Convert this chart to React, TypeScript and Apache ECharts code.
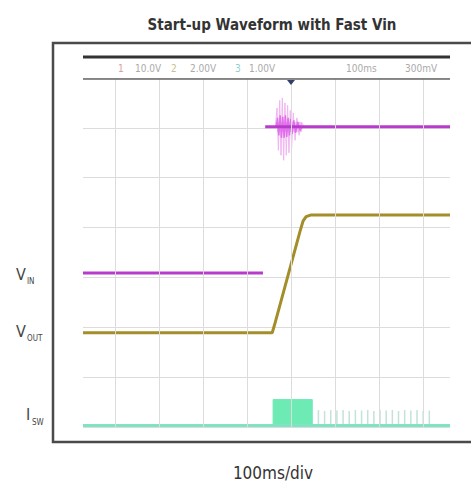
import React, { useEffect, useRef } from "react";
import * as echarts from "echarts";

// x in ms (100 ms/div), y in divisions
const xGridLines = [100, 200, 300, 400, 500, 600, 700, 800];
const vinLow: number[][] = [[27, 3.09], [436, 3.09]];
const vinHigh: number[][] = [[441, 6.02], [861, 6.02]];
const vinNoise: number[][] = [
  [464, 6.02], [468, 6.4], [471, 5.55], [474, 6.55], [477, 5.45], [480, 6.6],
  [483, 5.35], [486, 6.5], [489, 5.45], [492, 6.45], [495, 5.5], [498, 6.35],
  [501, 5.6], [505, 6.3], [509, 5.75], [513, 6.2], [518, 5.85], [524, 6.1], [530, 6.02],
];
const vinNoiseCore: number[][] = [
  [466, 6.02], [469, 6.2], [472, 5.85], [475, 6.25], [478, 5.8], [481, 6.22],
  [484, 5.8], [487, 6.25], [490, 5.82], [493, 6.2], [496, 5.85], [499, 6.18],
  [502, 5.88], [506, 6.15], [510, 5.9], [515, 6.12], [520, 5.95], [526, 6.02],
];
const vinBlob: number[][] = [[468, 6.02], [525, 6.02]];
const vout: number[][] = [
  [27, 1.89], [457, 1.89], [462, 2.04], [520, 3.92], [527, 4.13], [534, 4.22],
  [544, 4.25], [861, 4.25],
];
const iswBase: number[][] = [[27, 0.03], [861, 0.03]];
const iswBurst: number[][] = [[459, 0.03], [459, 0.55], [548, 0.55], [548, 0.03]];
const iswRipple: number[][] = [
  [562, 0.34], [576, 0.32], [590, 0.34], [604, 0.33], [618, 0.34], [632, 0.32],
  [646, 0.34], [660, 0.33], [674, 0.34], [688, 0.32], [702, 0.34], [716, 0.33],
  [730, 0.34], [744, 0.32], [758, 0.34], [772, 0.33], [786, 0.34], [800, 0.32], [814, 0.33],
];
const headerTexts = [
  { t: "1", x: 118, c: "#d9a0a0" },
  { t: "10.0V", x: 135, c: "#aaaaaa" },
  { t: "2", x: 171, c: "#c8c090" },
  { t: "2.00V", x: 190, c: "#aaaaaa" },
  { t: "3", x: 235, c: "#90d0d0" },
  { t: "1.00V", x: 249, c: "#aaaaaa" },
  { t: "100ms", x: 346, c: "#aaaaaa" },
  { t: "300mV", x: 405, c: "#aaaaaa" },
];

const FONT = "'DejaVu Sans Condensed', 'DejaVu Sans', sans-serif";

export default function App() {
  const ref = useRef<HTMLDivElement>(null);
  useEffect(() => {
    document.body.style.margin = "0";
    const chart = echarts.init(ref.current!, undefined, { renderer: "svg" });
    const graphics: any[] = [
      {
        type: "rect",
        shape: { x: 53, y: 43, width: 432, height: 399 },
        style: { fill: "none", stroke: "#4a4a4a", lineWidth: 2.5 },
        z: 10,
      },
      {
        type: "line",
        shape: { x1: 83, y1: 57, x2: 450, y2: 57 },
        style: { stroke: "#333", lineWidth: 3 },
        z: 10,
      },
      {
        type: "line",
        shape: { x1: 83, y1: 79, x2: 450, y2: 79 },
        style: { stroke: "#666", lineWidth: 1.5 },
        z: 10,
      },
      {
        type: "polygon",
        shape: { points: [[287, 80], [295, 80], [291, 85]] },
        style: { fill: "#334066" },
        z: 10,
      },
      {
        type: "text",
        x: 272,
        y: 25,
        style: {
          text: "Start-up Waveform with Fast Vin",
          font: `bold 15px ${FONT}`,
          fill: "#333",
          align: "center",
          verticalAlign: "middle",
        },
      },
      {
        type: "text",
        x: 273,
        y: 473,
        style: {
          text: "100ms/div",
          font: `17px ${FONT}`,
          fill: "#333",
          align: "center",
          verticalAlign: "middle",
        },
      },
      // channel labels
      { type: "text", x: 16, y: 274, style: { text: "V", font: `16px ${FONT}`, fill: "#444", verticalAlign: "middle" } },
      { type: "text", x: 27, y: 281, style: { text: "IN", font: `8px ${FONT}`, fill: "#444", verticalAlign: "middle" } },
      { type: "text", x: 16, y: 331, style: { text: "V", font: `16px ${FONT}`, fill: "#444", verticalAlign: "middle" } },
      { type: "text", x: 27, y: 338, style: { text: "OUT", font: `8px ${FONT}`, fill: "#444", verticalAlign: "middle" } },
      { type: "text", x: 26, y: 414, style: { text: "I", font: `16px ${FONT}`, fill: "#444", verticalAlign: "middle" } },
      { type: "text", x: 32, y: 422, style: { text: "SW", font: `8px ${FONT}`, fill: "#444", verticalAlign: "middle" } },
      ...headerTexts.map((h) => ({
        type: "text",
        x: h.x,
        y: 68,
        style: { text: h.t, font: `10px ${FONT}`, fill: h.c, verticalAlign: "middle" },
      })),
    ];

    chart.setOption({
      animation: false,
      grid: { left: 83, right: 21, top: 78, bottom: 57 },
      xAxis: {
        type: "value",
        min: 27,
        max: 861,
        axisLine: { show: false },
        axisTick: { show: false },
        axisLabel: { show: false },
        splitLine: { show: false },
      },
      yAxis: {
        type: "value",
        min: 0,
        max: 7,
        interval: 1,
        axisLine: { show: false },
        axisTick: { show: false },
        axisLabel: { show: false },
        splitLine: { show: true, lineStyle: { color: "#dcdcdc", width: 1 } },
      },
      graphic: graphics,
      series: [
        {
          type: "line",
          data: iswBase,
          symbol: "none",
          lineStyle: { color: "#80e4c2", width: 3 },
          markLine: {
            silent: true,
            symbol: "none",
            label: { show: false },
            lineStyle: { color: "#dcdcdc", width: 1, type: "solid" },
            data: xGridLines.map((v) => ({ xAxis: v })),
          },
          z: 3,
        },
        {
          type: "bar",
          data: iswRipple,
          barWidth: 1.5,
          itemStyle: { color: "#c2e2da" },
          z: 2,
        },
        {
          type: "line",
          data: iswBurst,
          symbol: "none",
          lineStyle: { color: "#6fe8b8", width: 1 },
          areaStyle: { color: "#55e8a8", opacity: 0.85 },
          z: 3,
        },
        {
          type: "line",
          data: vinNoise,
          symbol: "none",
          lineStyle: { color: "#f2b4f2", width: 1 },
          z: 3,
        },
        {
          type: "line",
          data: vinBlob,
          symbol: "none",
          lineStyle: { color: "#e890f0", width: 10, opacity: 0.55 },
          z: 3,
        },
        {
          type: "line",
          data: vinNoiseCore,
          symbol: "none",
          lineStyle: { color: "#e070ea", width: 1.5 },
          z: 3,
        },
        {
          type: "line",
          data: vinLow,
          symbol: "none",
          lineStyle: { color: "#b83ccc", width: 3 },
          z: 4,
        },
        {
          type: "line",
          data: vinHigh,
          symbol: "none",
          lineStyle: { color: "#b83ccc", width: 3 },
          z: 4,
        },
        {
          type: "line",
          data: vout,
          symbol: "none",
          lineStyle: { color: "#a38e2a", width: 3 },
          z: 4,
        },
      ],
    });
    return () => chart.dispose();
  }, []);
  return <div ref={ref} style={{ width: 471, height: 484 }} />;
}
